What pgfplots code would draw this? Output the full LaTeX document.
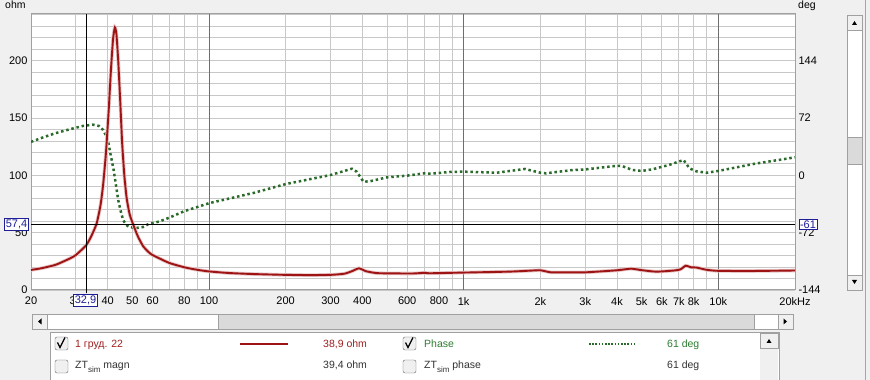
\documentclass[border=0pt]{standalone}
\usepackage{pgfplots}
\usepackage{pgfplotstable}
\pgfplotsset{compat=1.18}
\usepackage{fontspec}
\setmainfont{Liberation Sans}
\definecolor{bg}{HTML}{F0F0F0}
\definecolor{gridc}{HTML}{C8C8C8}
\definecolor{gridd}{HTML}{6E6E6E}
\definecolor{zred}{HTML}{9E1414}
\definecolor{pgreen}{HTML}{2A6A2A}
\definecolor{legred}{HTML}{A02020}
\definecolor{leggreen}{HTML}{2E7D32}
\definecolor{curblue}{HTML}{1E1E96}
\definecolor{frame}{HTML}{A0A0A0}
\definecolor{thumb}{HTML}{DADADA}

\pgfplotstableread{
f z
20 17.5
22 19
25 22
28.5 27.6
30 30.5
32.9 38.9
34.5 47
36.2 58
37.5 74
38.4 92
39.4 120
40.4 158
41.2 192
42 219
42.7 229
43.3 223
44 200
44.8 165
45.6 128
46.5 100
47.5 80
48.8 66
50.4 57
52.5 47
55.2 38
59 31.5
63.8 27.6
70 23.5
80 19.8
90 17.6
100 16.2
120 14.8
150 13.9
200 13.2
250 13
300 13.2
340 14.2
365 16.5
388 18.9
412 16.5
440 15.2
470 14.6
630 14.4
700 15
730 14.6
860 14.9
1000 15.2
1500 16
1800 16.8
2000 17.2
2200 15.4
2500 15.4
3000 15.4
4000 17.2
4540 18.6
5000 17.3
5700 16
6700 17
7100 18
7450 21.2
7800 19.8
8200 19.6
9000 17.6
10000 16.7
13700 16.6
20000 17
}\zdata

\pgfplotstableread{
f p
20 42
22 47
25 53
28.5 58
32 62
35 63.6
37 62
38.4 57
39.4 50
40.3 40
41.2 24
42.2 7
43.1 -12
44 -31
45 -45
46 -56
47 -61
48.2 -64.5
50 -65.5
52 -66
55 -65
58 -61
63.8 -58
70 -53
80 -45
100 -35
150 -22
200 -11
300 0.4
364 8.3
380 4.6
404 -8
428 -7.5
500 -2.5
600 -0.4
700 2.5
738 2
882 4.2
1000 4.6
1350 3.3
1740 8
2000 3.3
2100 2.5
2680 6.7
3000 7.4
4000 12
4200 11.5
4600 6.7
5000 5.5
5500 7.5
6400 13
7300 19.3
7700 8.8
8200 5
9000 3.3
10000 5.5
13700 14.2
20000 22.6
}\pdata

\begin{document}
\begin{tikzpicture}[font=\fontsize{10.5}{12}\selectfont]
\fill[bg] (0pt,0pt) rectangle (870pt,380pt);
\useasboundingbox (0pt,0pt) rectangle (870pt,380pt);

% main axis with grid
\begin{axis}[
  at={(31pt,90pt)}, anchor=south west, scale only axis,
  width=764pt, height=276pt,
  xmode=log, xmin=20, xmax=20000, ymin=0, ymax=240.7,
  axis background/.style={fill=white},
  axis line style={draw=frame, line width=1pt},
  xtick={20,30,40,50,60,80,100,200,300,400,600,800,1000,2000,3000,4000,5000,6000,7000,8000,10000,20000},
  xticklabels={20,30,40,50,60,80,100,200,300,400,600,800,1k,2k,3k,4k,5k,6k,7k,8k,10k,20kHz},
  minor xtick={70,90,500,700,900,9000},
  ytick={0,50,100,150,200},
  minor ytick={10,20,...,240},
  ytick pos=left, xtick pos=bottom,
  grid=both,
  major grid style={draw=gridc, line width=0.8pt},
  minor grid style={draw=gridc, line width=0.8pt},
  major tick length=0pt, minor tick length=0pt,
  extra x ticks={100,1000,10000}, extra x tick labels={},
  extra x tick style={grid=major, major grid style={draw=gridd, line width=0.8pt}},
  ticklabel style={font=\fontsize{11}{12}\selectfont, text=black},
  xticklabel style={yshift=-3.5pt},
  /pgf/number format/assume math mode=true,
]
\end{axis}

% phase axis (right)
\begin{axis}[
  at={(31pt,90pt)}, anchor=south west, scale only axis,
  width=764pt, height=276pt,
  xmode=log, xmin=20, xmax=20000, ymin=-144, ymax=202.6,
  hide x axis, axis y line*=right, y axis line style={draw=none},
  ytick={-144,-72,0,72,144},
  major tick length=0pt,
  ticklabel style={font=\fontsize{11}{12}\selectfont, text=black},
  /pgf/number format/assume math mode=true,
]
\addplot[pgreen, line width=2.5pt, dash pattern=on 2.5pt off 2.8pt] table[x=f,y=p] {\pdata};
\end{axis}

% impedance curve + cursors
\begin{axis}[
  at={(31pt,90pt)}, anchor=south west, scale only axis,
  width=764pt, height=276pt,
  xmode=log, xmin=20, xmax=20000, ymin=0, ymax=240.7,
  hide axis, clip=false,
]
\addplot[zred!25, line width=3.6pt, smooth, tension=0.35] table[x=f,y=z] {\zdata};
\addplot[zred, line width=1.9pt, smooth, tension=0.35] table[x=f,y=z] {\zdata};
\draw[black, line width=0.9pt] (axis cs:32.9,-3) -- (axis cs:32.9,240.7);
\draw[black, line width=0.9pt] (axis cs:20,57.4) -- (axis cs:20000,57.4);
\end{axis}

\begin{scope}[x=1pt,y=1pt]
% cursor boxes
\node[draw=curblue, fill=white, text=curblue, inner sep=1.2pt, line width=0.7pt, font=\fontsize{11}{12}\selectfont] at (85.5,79.5) {32,9};
\node[draw=curblue, fill=white, text=curblue, inner sep=1.2pt, line width=0.7pt, font=\fontsize{11}{12}\selectfont] at (16.5,155.5) {57,4};
\node[draw=curblue, fill=white, text=curblue, inner sep=1.2pt, line width=0.7pt, font=\fontsize{11}{12}\selectfont] at (808,155.5) {-61};

% unit labels
\node[anchor=base west, inner sep=0] at (5,371.5) {ohm};
\node[anchor=base west, inner sep=0] at (798,371.5) {deg};

% right vertical scrollbar
\fill[white] (847,90) rectangle (862,365);
\draw[frame] (847,90) rectangle (862,365);
\fill[bg] (847,350) rectangle (862,365); \draw[frame] (847,350) rectangle (862,365);
\fill[black] (852,355) -- (857,355) -- (854.5,359) -- cycle;
\fill[bg] (847,90) rectangle (862,105); \draw[frame] (847,90) rectangle (862,105);
\fill[black] (852,100) -- (857,100) -- (854.5,96) -- cycle;
\fill[thumb] (847,216) rectangle (862,243); \draw[frame] (847,216) rectangle (862,243);
\draw[gray!70, line width=1pt] (865,0) -- (865,380);

% horizontal scrollbar
\fill[white] (32,51) rectangle (793,66);
\draw[frame] (32,51) rectangle (793,66);
\fill[bg] (32,51) rectangle (47,66); \draw[frame] (32,51) rectangle (47,66);
\fill[black] (38,58.5) -- (41.5,61.5) -- (41.5,55.5) -- cycle;
\fill[thumb] (218,51) rectangle (754,66); \draw[frame] (218,51) rectangle (754,66);
\fill[bg] (778,51) rectangle (793,66); \draw[frame] (778,51) rectangle (793,66);
\fill[black] (787,58.5) -- (783.5,61.5) -- (783.5,55.5) -- cycle;

% legend panel
\fill[white] (50,-2) rectangle (779,48);
\draw[frame] (50,-2) -- (50,48) -- (779,48) -- (779,-2);
\fill[bg] (760,-2) rectangle (778,47);
\draw[frame] (760,32) rectangle (778,47);
\fill[black] (766.5,37) -- (771.5,37) -- (769,41) -- cycle;

% checkboxes
\foreach \cx/\cy in {55/30, 403/30, 55/7, 403/7} {
  \fill[gray!12, rounded corners=2pt] (\cx,\cy) rectangle ++(13,13);
  \draw[gray!80!black, rounded corners=2pt] (\cx,\cy) rectangle ++(13,13);
}
\draw[black, line width=1.3pt] (57.5,37.5) -- (60,32.5) -- (65,42.5);
\draw[black, line width=1.3pt] (405.5,37.5) -- (408,32.5) -- (413,42.5);

% legend texts
\node[anchor=base west, inner sep=0, text=legred] at (75,32.3) {1 груд. 22};
\draw[zred, line width=2pt] (240,36) -- (288,36);
\node[anchor=base west, inner sep=0, text=legred] at (323,32.3) {38,9 ohm};
\node[anchor=base west, inner sep=0, text=leggreen] at (424,32.3) {Phase};
\draw[pgreen, line width=1.6pt, dash pattern=on 1.6pt off 1.6pt] (589,36) -- (636,36);
\node[anchor=base west, inner sep=0, text=leggreen] at (667,32.3) {61 deg};

\node[anchor=base west, inner sep=0, text=black!80] at (75,11.5) {ZT\raisebox{-4pt}{\fontsize{8}{8}\selectfont sim} magn};
\node[anchor=base west, inner sep=0, text=black!80] at (323,11.5) {39,4 ohm};
\node[anchor=base west, inner sep=0, text=black!80] at (424,11.5) {ZT\raisebox{-4pt}{\fontsize{8}{8}\selectfont sim} phase};
\node[anchor=base west, inner sep=0, text=black!80] at (667,11.5) {61 deg};
\end{scope}
\end{tikzpicture}
\end{document}
